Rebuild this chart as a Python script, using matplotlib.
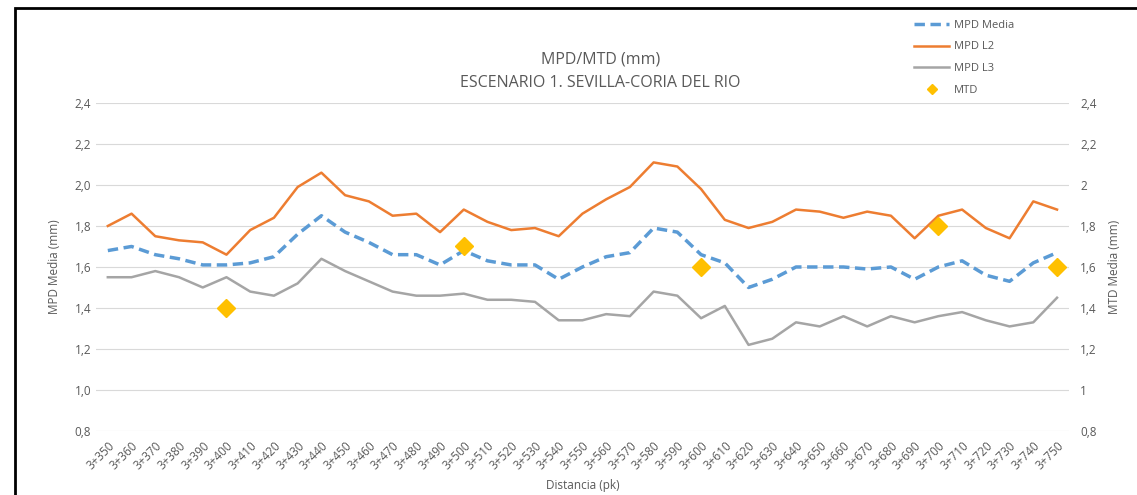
import numpy as np
import matplotlib
matplotlib.use("Agg")
import matplotlib.pyplot as plt
from matplotlib.patches import Rectangle

# chainages (pk)
pk = ["3+%d" % v for v in range(350, 760, 10)]

mpd_media = [1.68, 1.70, 1.66, 1.64, 1.61, 1.61, 1.62, 1.65, 1.76, 1.85,
             1.77, 1.72, 1.66, 1.66, 1.61, 1.68, 1.63, 1.61, 1.61, 1.54,
             1.60, 1.65, 1.67, 1.79, 1.77, 1.66, 1.62, 1.50, 1.54, 1.60,
             1.60, 1.60, 1.59, 1.60, 1.54, 1.60, 1.63, 1.56, 1.53, 1.62,
             1.67]
mpd_l2 = [1.80, 1.86, 1.75, 1.73, 1.72, 1.66, 1.78, 1.84, 1.99, 2.06,
          1.95, 1.92, 1.85, 1.86, 1.77, 1.88, 1.82, 1.78, 1.79, 1.75,
          1.86, 1.93, 1.99, 2.11, 2.09, 1.98, 1.83, 1.79, 1.82, 1.88,
          1.87, 1.84, 1.87, 1.85, 1.74, 1.85, 1.88, 1.79, 1.74, 1.92,
          1.88]
mpd_l3 = [1.55, 1.55, 1.58, 1.55, 1.50, 1.55, 1.48, 1.46, 1.52, 1.64,
          1.58, 1.53, 1.48, 1.46, 1.46, 1.47, 1.44, 1.44, 1.43, 1.34,
          1.34, 1.37, 1.36, 1.48, 1.46, 1.35, 1.41, 1.22, 1.25, 1.33,
          1.31, 1.36, 1.31, 1.36, 1.33, 1.36, 1.38, 1.34, 1.31, 1.33,
          1.45]
mtd_pk = ["3+400", "3+500", "3+600", "3+700", "3+750"]
mtd = [1.40, 1.70, 1.60, 1.80, 1.60]

yticks = [0.8, 1.0, 1.2, 1.4, 1.6, 1.8, 2.0, 2.2, 2.4]
left_lbl = ["0,8", "1,0", "1,2", "1,4", "1,6", "1,8", "2,0", "2,2", "2,4"]
right_lbl = ["0,8", "1", "1,2", "1,4", "1,6", "1,8", "2", "2,2", "2,4"]

txt = "#595959"
plt.rcParams["font.family"] = ["Open Sans", "DejaVu Sans"]

fig = plt.figure(figsize=(11.37, 4.95), dpi=100)
fig.patches.append(Rectangle((15 / 1137, -0.01), 1.2, 1 - 8 / 495 + 0.01,
                             transform=fig.transFigure, fill=False,
                             edgecolor="black", linewidth=2))

ax = fig.add_axes([0.0844, 0.1293, 0.8557, 0.6627])
x = np.arange(len(pk))
ax.plot(x, mpd_media, color="#5B9BD5", lw=2.5, ls=(0, (3, 1.6)), label="MPD Media")
ax.plot(x, mpd_l2, color="#ED7D31", lw=1.8, label="MPD L2")
ax.plot(x, mpd_l3, color="#A5A5A5", lw=1.8, label="MPD L3")

ax.set_xlim(-0.5, len(pk) - 0.5)
ax.set_ylim(0.8, 2.4)
ax.set_yticks(yticks)
ax.set_yticklabels(left_lbl)
ax.set_xticks(x)
ax.set_xticklabels(pk, rotation=45, ha="right", rotation_mode="anchor")
ax.grid(axis="y", color="#D9D9D9", lw=0.8)
ax.set_axisbelow(True)
for s in ax.spines.values():
    s.set_visible(False)
ax.tick_params(length=0, colors=txt, labelsize=8.5)
ax.tick_params(axis="x", labelsize=8.5, pad=6)
ax.set_ylabel("MPD Media (mm)", color=txt, fontsize=8.5, labelpad=10)
ax.set_xlabel("Distancia (pk)", color=txt, fontsize=8.5, labelpad=5)

ax2 = ax.twinx()
mx = [pk.index(p) for p in mtd_pk]
ax2.plot(mx, mtd, ls="none", marker="D", ms=9, color="#FFC000", label="MTD")
ax2.set_ylim(0.8, 2.4)
ax2.set_yticks(yticks)
ax2.set_yticklabels(right_lbl)
for s in ax2.spines.values():
    s.set_visible(False)
ax2.tick_params(length=0, colors=txt, labelsize=8.5, pad=8)
ax2.set_ylabel("MTD Media (mm)", color=txt, fontsize=8.5, labelpad=8)

fig.text(0.528, 0.880, "MPD/MTD (mm)", ha="center", va="center", color=txt, fontsize=11.5)
fig.text(0.528, 0.832, "ESCENARIO 1. SEVILLA-CORIA DEL RIO", ha="center", va="center",
         color=txt, fontsize=11.5)

h1, l1 = ax.get_legend_handles_labels()
h2, l2 = ax2.get_legend_handles_labels()
fig.legend(h1 + h2, l1 + l2, loc="upper left", bbox_to_anchor=(0.795, 0.98),
           frameon=False, fontsize=8, labelcolor=txt, handlelength=3.2,
           labelspacing=0.95, handletextpad=0.4, markerscale=0.6)

fig.savefig("out.png", dpi=100)
